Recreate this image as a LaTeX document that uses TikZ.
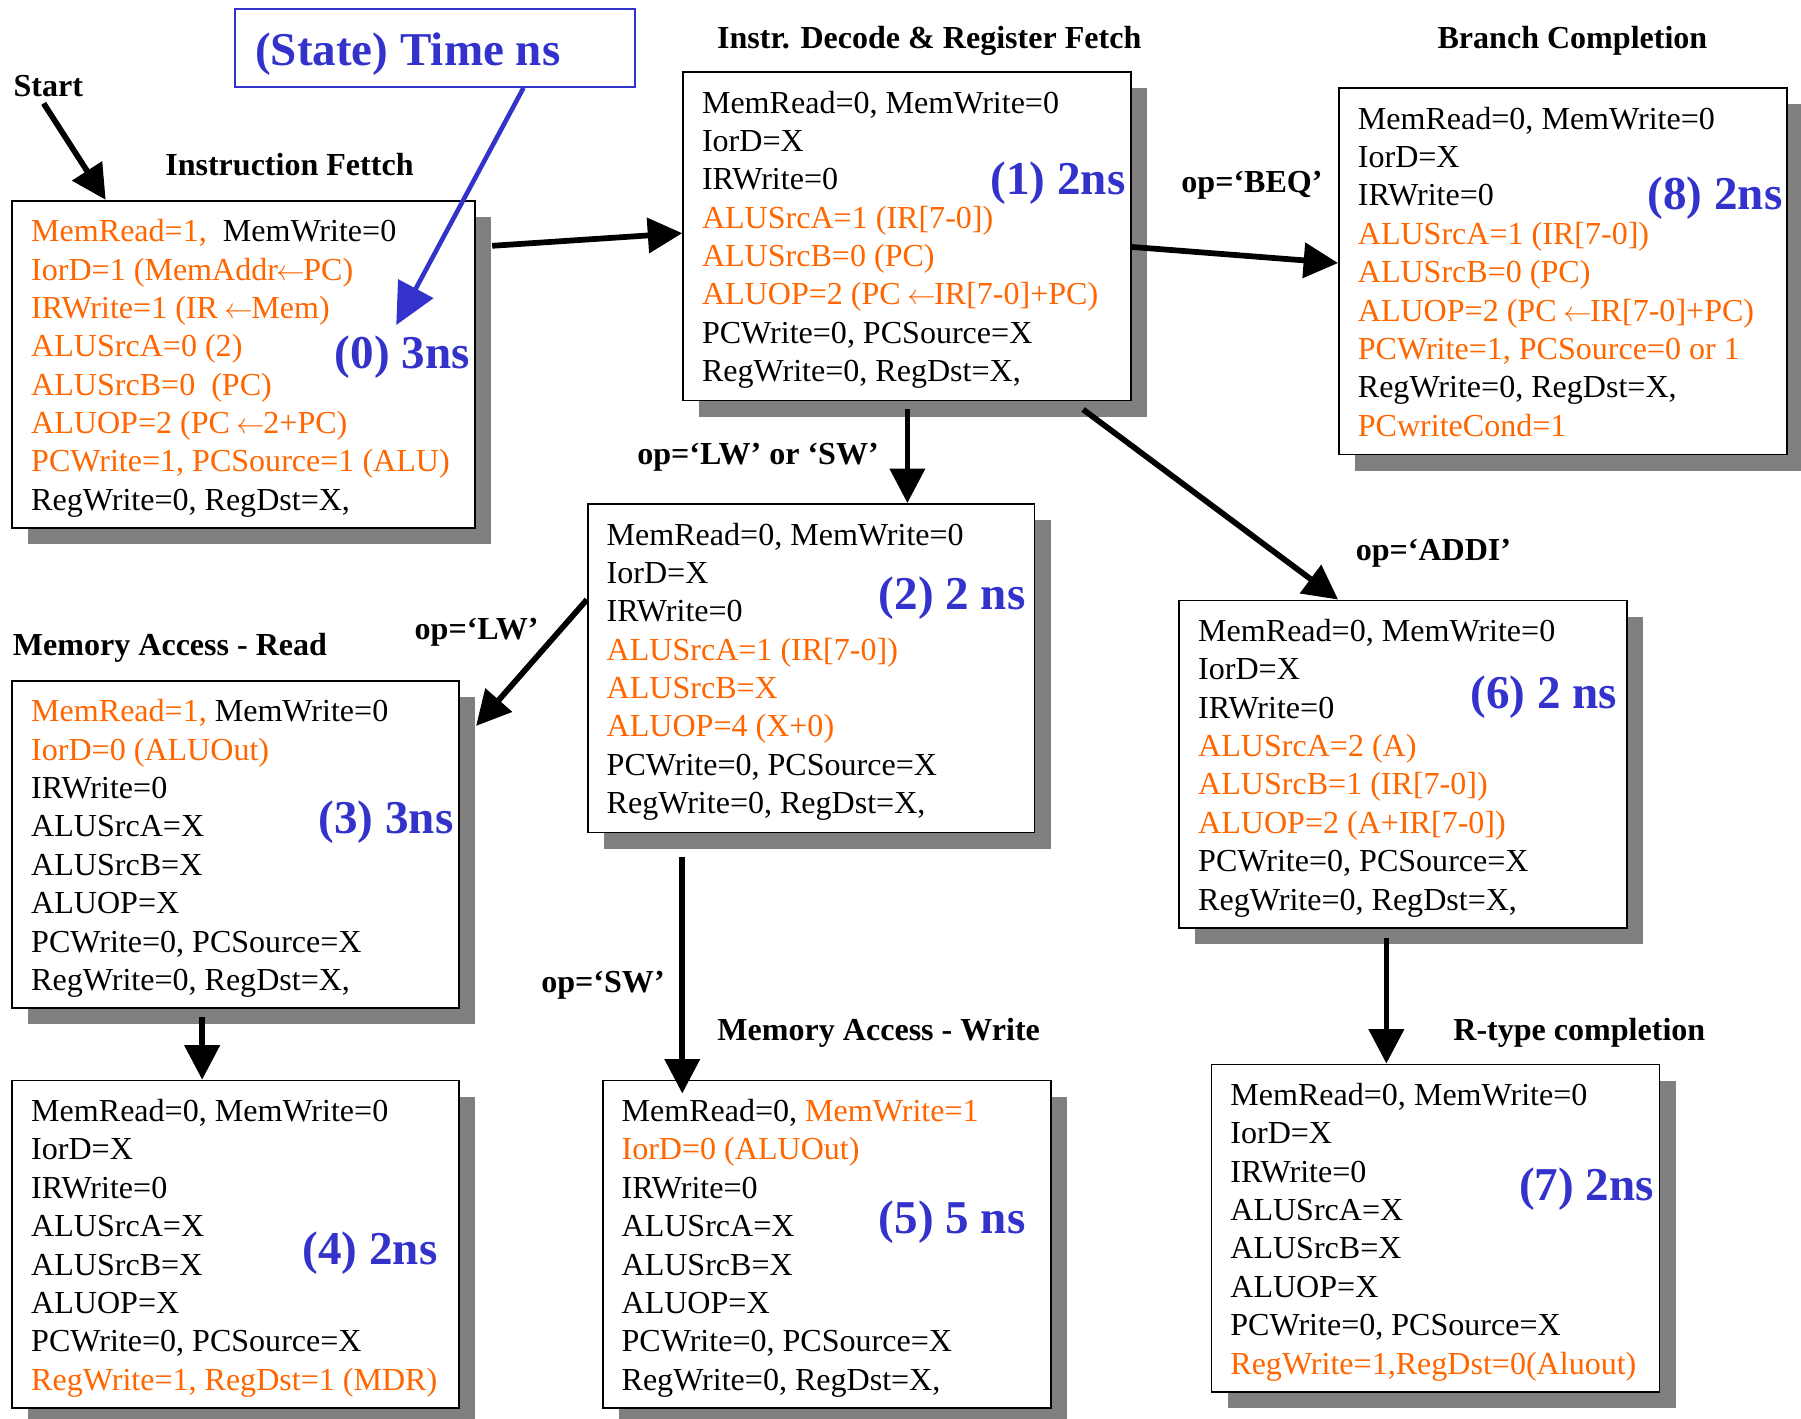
\documentclass[tikz,border=0pt]{standalone}
\usepackage{fontspec}
\setmainfont{Liberation Serif}
\usetikzlibrary{arrows.meta,shadows}
\definecolor{sorange}{RGB}{255,102,0}
\definecolor{sblue}{RGB}{51,51,204}
\definecolor{shgray}{RGB}{128,128,128}
\newcommand{\og}[1]{\textcolor{sorange}{#1}}
\newcommand{\la}{\kern-0.05em$\leftarrow$\kern-0.05em}
\newcommand{\lines}[1]{\begin{tabular}[t]{@{}l@{}}#1\end{tabular}}
\tikzset{
  stbox/.style={draw=black, line width=1.5pt, fill=white, anchor=north west, inner sep=0pt,
    minimum height=285pt, minimum width=390pt,
    drop shadow={shadow xshift=14pt, shadow yshift=-14pt, fill=shgray, opacity=1}},
  body/.style={anchor=base west, inner sep=0pt, font=\fontsize{27.9}{33.4}\selectfont},
  tlabel/.style={anchor=base east, inner sep=0pt, text=sblue, font=\fontsize{41}{48}\selectfont\bfseries},
  ttl/.style={anchor=base, inner sep=0pt, font=\fontsize{27.9}{33.4}\selectfont\bfseries},
  arr/.style={line width=5pt, -{Triangle[length=30pt,width=30pt]}},
  barr/.style={line width=4pt, sblue, -{Triangle[length=36pt,width=34pt]}},
}
\begin{document}
\begin{tikzpicture}[x=1pt,y=-1pt]
\useasboundingbox (0,0) rectangle (1568,1235);

% title box
\node[draw=sblue, line width=1.5pt, anchor=north west, inner sep=0pt, minimum width=348pt, minimum height=68pt] (tb) at (204,7) {};
\node[anchor=base west, inner sep=0pt, text=sblue, font=\fontsize{41}{48}\selectfont\bfseries] (tbt) at (222,57) {(State) Time ns};

% state boxes
\node[stbox, minimum width=403pt] (b0) at (10,174) {};
\node[stbox, minimum height=286pt] (b1) at (594,62) {};
\node[stbox, minimum height=319pt] (b8) at (1165,76) {};
\node[stbox, minimum width=389pt, minimum height=286pt] (b2) at (511,438) {};
\node[stbox, minimum width=389pt] (b3) at (10,592) {};
\node[stbox, minimum width=389pt] (b4) at (10,940) {};
\node[stbox] (b5) at (524,940) {};
\node[stbox] (b6) at (1026,522) {};
\node[stbox] (b7) at (1054,926) {};

% box texts
\node[body] (t0) at ([shift={(17,36.5)}]b0.north west) {\lines{%
\og{MemRead=1,}\ \ MemWrite=0\\
\og{IorD=1 (MemAddr\la PC)}\\
\og{IRWrite=1 (IR \la Mem)}\\
\og{ALUSrcA=0 (2)}\\
\og{ALUSrcB=0\ \ (PC)}\\
\og{ALUOP=2 (PC \la 2+PC)}\\
\og{PCWrite=1, PCSource=1 (ALU)}\\
RegWrite=0, RegDst=X,}};

\node[body] (t1) at ([shift={(17,36.5)}]b1.north west) {\lines{%
MemRead=0, MemWrite=0\\
IorD=X\\
IRWrite=0\\
\og{ALUSrcA=1 (IR[7-0])}\\
\og{ALUSrcB=0 (PC)}\\
\og{ALUOP=2 (PC \la IR[7-0]+PC)}\\
PCWrite=0, PCSource=X\\
RegWrite=0, RegDst=X,}};

\node[body] (t8) at ([shift={(17,36.5)}]b8.north west) {\lines{%
MemRead=0, MemWrite=0\\
IorD=X\\
IRWrite=0\\
\og{ALUSrcA=1 (IR[7-0])}\\
\og{ALUSrcB=0 (PC)}\\
\og{ALUOP=2 (PC \la IR[7-0]+PC)}\\
\og{PCWrite=1, PCSource=0 or 1}\\
RegWrite=0, RegDst=X,\\
\og{PCwriteCond=1}}};

\node[body] (t2) at ([shift={(17,36.5)}]b2.north west) {\lines{%
MemRead=0, MemWrite=0\\
IorD=X\\
IRWrite=0\\
\og{ALUSrcA=1 (IR[7-0])}\\
\og{ALUSrcB=X}\\
\og{ALUOP=4 (X+0)}\\
PCWrite=0, PCSource=X\\
RegWrite=0, RegDst=X,}};

\node[body] (t3) at ([shift={(17,36.5)}]b3.north west) {\lines{%
\og{MemRead=1,} MemWrite=0\\
\og{IorD=0 (ALUOut)}\\
IRWrite=0\\
ALUSrcA=X\\
ALUSrcB=X\\
ALUOP=X\\
PCWrite=0, PCSource=X\\
RegWrite=0, RegDst=X,}};

\node[body] (t4) at ([shift={(17,36.5)}]b4.north west) {\lines{%
MemRead=0, MemWrite=0\\
IorD=X\\
IRWrite=0\\
ALUSrcA=X\\
ALUSrcB=X\\
ALUOP=X\\
PCWrite=0, PCSource=X\\
\og{RegWrite=1, RegDst=1 (MDR)}}};

\node[body] (t5) at ([shift={(17,36.5)}]b5.north west) {\lines{%
MemRead=0, \og{MemWrite=1}\\
\og{IorD=0 (ALUOut)}\\
IRWrite=0\\
ALUSrcA=X\\
ALUSrcB=X\\
ALUOP=X\\
PCWrite=0, PCSource=X\\
RegWrite=0, RegDst=X,}};

\node[body] (t6) at ([shift={(17,36.5)}]b6.north west) {\lines{%
MemRead=0, MemWrite=0\\
IorD=X\\
IRWrite=0\\
\og{ALUSrcA=2 (A)}\\
\og{ALUSrcB=1 (IR[7-0])}\\
\og{ALUOP=2 (A+IR[7-0])}\\
PCWrite=0, PCSource=X\\
RegWrite=0, RegDst=X,}};

\node[body] (t7) at ([shift={(17,36.5)}]b7.north west) {\lines{%
MemRead=0, MemWrite=0\\
IorD=X\\
IRWrite=0\\
ALUSrcA=X\\
ALUSrcB=X\\
ALUOP=X\\
PCWrite=0, PCSource=X\\
\og{RegWrite=1,RegDst=0(Aluout)}}};

% time labels
\node[tlabel] (l0) at (409,321) {(0) 3ns};
\node[tlabel] (l1) at (980,169) {(1) 2ns};
\node[tlabel] (l8) at (1552,182) {(8) 2ns};
\node[tlabel] (l2) at (893,531) {(2) 2 ns};
\node[tlabel] (l3) at (395,726) {(3) 3ns};
\node[tlabel] (l4) at (381,1101) {(4) 2ns};
\node[tlabel] (l5) at (893,1074) {(5) 5 ns};
\node[tlabel] (l6) at (1408,617) {(6) 2 ns};
\node[tlabel] (l7) at (1440,1045) {(7) 2ns};

% titles and condition labels
\node[ttl] (start) at (42,84) {Start};
\node[ttl] (h0) at (252,153) {Instruction Fettch};
\node[ttl] (h1) at (809,42) {Instr. Decode \& Register Fetch};
\node[ttl] (h8) at (1369,42) {Branch Completion};
\node[ttl] (h3) at (148,571) {Memory Access - Read};
\node[ttl] (h5) at (765,906) {Memory Access - Write};
\node[ttl] (h7) at (1375,906) {R-type completion};
\node[ttl] (cbeq) at (1090,168) {op=‘BEQ’};
\node[ttl] (clwsw) at (660,404) {op=‘LW’ or ‘SW’};
\node[ttl] (caddi) at (1248,488) {op=‘ADDI’};
\node[ttl] (clw) at (415,557) {op=‘LW’};
\node[ttl] (csw) at (525,864) {op=‘SW’};

% connectors
\coordinate (st) at (38,90);
\coordinate (tip) at (345,283);
\draw[arr] (st) -- ([xshift=82pt]b0.north west);
\draw[barr] ([xshift=77pt]tb.south) -- (tip);
\draw[arr] ([xshift=14pt,yshift=-40pt]b0.north east) -- ([yshift=-141pt]b1.north west);
\draw[arr] ([yshift=-153pt]b1.north east) -- ([yshift=-153pt]b8.north west);
\draw[arr] ([xshift=196pt,yshift=-7pt]b1.south west) -- ([xshift=279pt]b2.north west);
\draw[arr] ([xshift=349pt,yshift=-7pt]b1.south west) -- ([xshift=139pt]b6.north west);
\draw[arr] ([yshift=-84pt]b2.north west) -- ([xshift=14pt,yshift=-40pt]b3.north east);
\draw[arr] ([xshift=83pt,yshift=-21pt]b2.south west) -- ([xshift=70pt,yshift=-12pt]b5.north west);
\draw[arr] ([xshift=166pt,yshift=-7pt]b3.south west) -- ([xshift=166pt]b4.north west);
\draw[arr] ([xshift=181pt,yshift=-8pt]b6.south west) -- ([xshift=153pt]b7.north west);
\end{tikzpicture}
\end{document}
